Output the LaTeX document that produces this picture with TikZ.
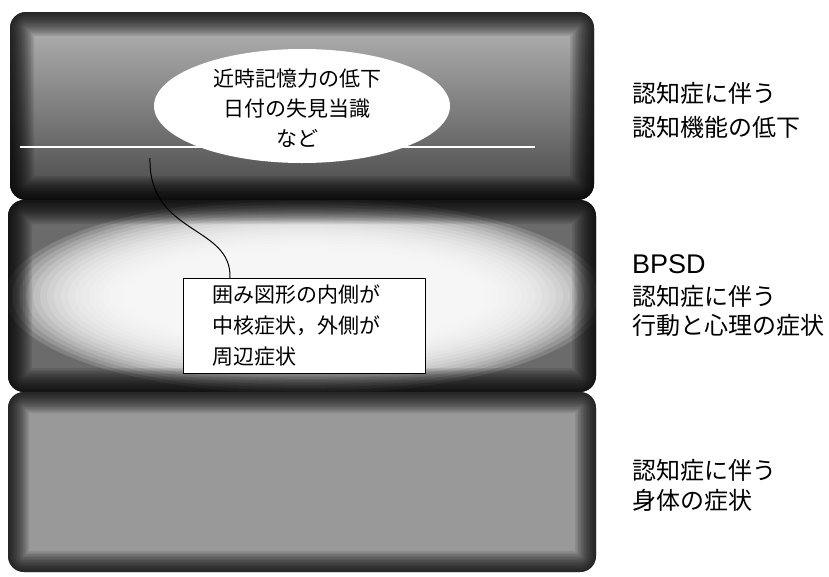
\documentclass[tikz,border=0pt]{standalone}
\usepackage{fontspec}
\setmainfont{Noto Sans CJK JP}
\newfontfamily\latinsans{Liberation Sans}
\usetikzlibrary{shapes.geometric}
\tikzset{
  edgedark/.style={draw=black, opacity=0.085},
  glowlayer/.style={fill=white, opacity=0.16},
  jptext/.style={font=\fontsize{21}{30}\selectfont},
  sidelabel/.style={anchor=west, align=left, inner sep=0pt, font=\fontsize{24}{34}\selectfont},
  notebox/.style={draw=black, line width=0.8pt, fill=white, anchor=north west, align=left,
    minimum width=242pt, minimum height=95pt, text width=184pt, inner xsep=29pt,
    font=\fontsize{21}{31}\selectfont},
  conn/.style={draw=black, line width=1pt}
}
\begin{document}
\begin{tikzpicture}[x=1pt,y=-1pt]
\useasboundingbox (0,0) rectangle (829,576);
\fill[white] (0,0) rectangle (829,576);

% ---------- top box ----------
\begin{scope}
  \path[clip, rounded corners=16pt] (10,12) rectangle (594,200);
  \shade[top color=black!28, middle color=black!62, bottom color=black!72] (10,12) rectangle (594,200);
  \foreach \i in {1,...,16}
    \draw[edgedark, line width=3*\i pt, rounded corners=16pt] (10,12) rectangle (594,200);
\end{scope}

% ---------- middle box ----------
\begin{scope}
  \path[clip, rounded corners=16pt] (8,200) rectangle (596,392);
  \fill[black!58] (8,200) rectangle (596,392);
  \foreach \i in {0,...,17}
    \fill[glowlayer] (305,296) ellipse ({300-7*\i} and {98-3*\i});
  \foreach \i in {1,...,16}
    \draw[edgedark, line width=3*\i pt, rounded corners=16pt] (8,200) rectangle (596,392);
\end{scope}

% ---------- bottom box ----------
\begin{scope}
  \path[clip, rounded corners=16pt] (8,392) rectangle (596,572);
  \fill[black!40] (8,392) rectangle (596,572);
  \foreach \i in {1,...,14}
    \draw[edgedark, line width=3*\i pt, rounded corners=16pt] (8,392) rectangle (596,572);
\end{scope}

% white horizontal line in top box
\coordinate (wl1) at (20,147);
\coordinate (wl2) at (535,147);
\draw[white, line width=1.5pt] (wl1) -- (wl2);

% ellipse with core symptoms text
\node[ellipse, fill=white, minimum width=296pt, minimum height=114pt, inner sep=0pt] (mem) at (302,106) {};
\node[jptext, align=center, inner sep=0pt] (memtext) at (297,108) {近時記憶力の低下\\日付の失見当識\\など};

% callout box
\node[notebox] (note) at (183,278) {囲み図形の内側が\\中核症状，外側が\\周辺症状};

% connector
\coordinate (hook) at (150,158);
\draw[conn] (hook) .. controls (148,235) and (232,225) .. ([xshift=47pt]note.north west);

% right labels
\node[sidelabel] (lab1) at (632,110) {認知症に伴う\\認知機能の低下};
\node[anchor=west, inner sep=0pt, font=\latinsans\fontsize{27}{30}\selectfont] (bpsd) at (632,264) {BPSD};
\node[sidelabel, font=\fontsize{24}{29}\selectfont] (lab2) at (632,311) {認知症に伴う\\行動と心理の症状};
\node[sidelabel, font=\fontsize{24}{30}\selectfont] (lab3) at (632,485) {認知症に伴う\\身体の症状};
\end{tikzpicture}
\end{document}
